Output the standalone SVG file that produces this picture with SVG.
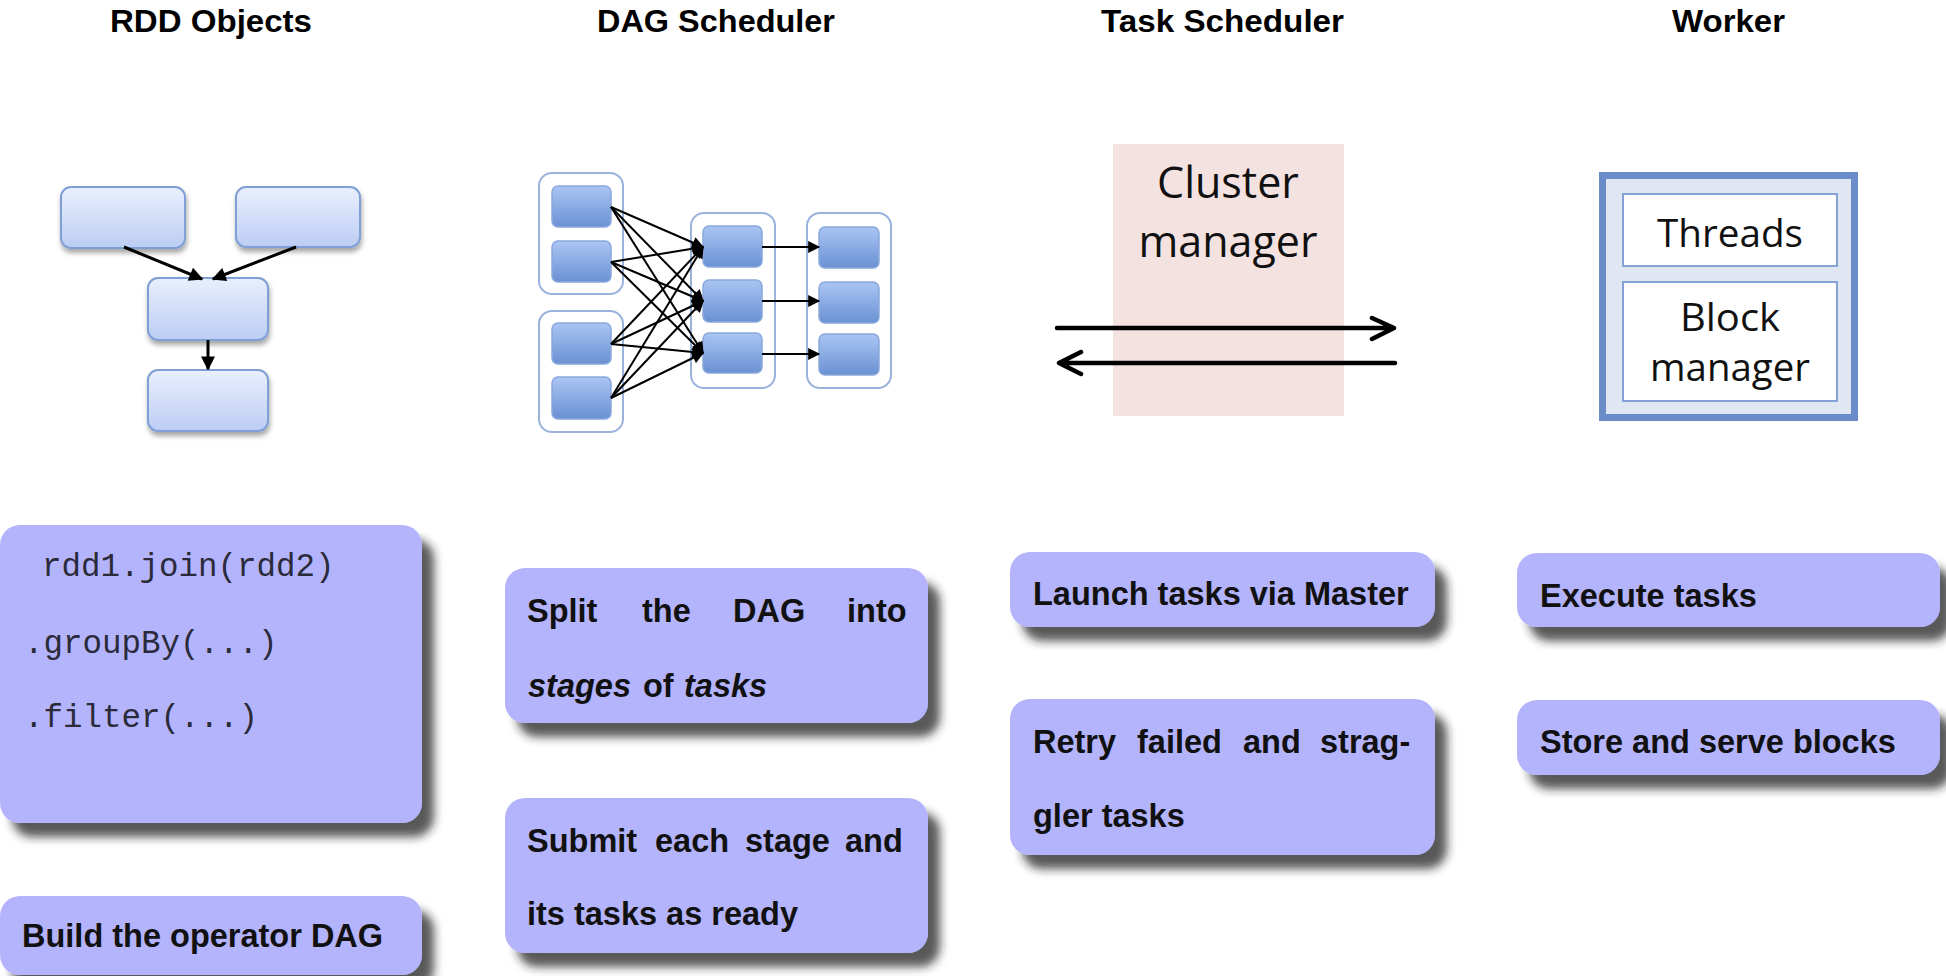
<svg xmlns="http://www.w3.org/2000/svg" width="1946" height="976" viewBox="0 0 1946 976">
<style>
.hdr{font-family:"Liberation Sans",Arial,sans-serif;font-weight:bold;font-size:32px;fill:#000}
.lbl{font-family:"Liberation Sans",Arial,sans-serif;font-weight:bold;font-size:32.5px;fill:#111}
.it{font-style:italic}
.code{font-family:"Liberation Mono","Courier New",monospace;font-size:32.5px;fill:#2a2a3a}
.cm{font-family:"Open Sans","Noto Sans",sans-serif;font-size:43px;fill:#111;text-anchor:middle}
.wt{font-family:"Open Sans","Noto Sans",sans-serif;font-size:39px;fill:#111;text-anchor:middle}
.note{fill:#b4b4fc;filter:url(#sh)}
.rdd{fill:url(#g1);stroke:#7f9fd5;stroke-width:2;filter:url(#sh2)}
.grp{fill:#fff;stroke:#9ab3dd;stroke-width:2}
.cell{fill:url(#g2);stroke:#89a8dc;stroke-width:1.5}
.wb{fill:#fff;stroke:#84a2d6;stroke-width:2}
.a1{stroke:#000;stroke-width:3;fill:none;marker-end:url(#ah1)}
.a2{stroke:#000;stroke-width:2;fill:none;marker-end:url(#ah2)}
.a3{stroke:#000;stroke-width:4.5;fill:none;stroke-linecap:round;stroke-linejoin:round}
</style>
<defs>
<linearGradient id="g1" x1="0" y1="0" x2="0" y2="1"><stop offset="0" stop-color="#e9effd"/><stop offset="1" stop-color="#bccdf4"/></linearGradient>
<linearGradient id="g2" x1="0" y1="0" x2="0" y2="1"><stop offset="0" stop-color="#aac5f3"/><stop offset="1" stop-color="#6a91d3"/></linearGradient>
<filter id="sh" x="-10%" y="-10%" width="130%" height="140%"><feDropShadow dx="12" dy="14" stdDeviation="5" flood-color="#222" flood-opacity="0.75"/></filter>
<filter id="sh2" x="-10%" y="-10%" width="130%" height="140%"><feDropShadow dx="1" dy="4" stdDeviation="2.5" flood-color="#000" flood-opacity="0.35"/></filter>
<marker id="ah1" viewBox="0 0 10 10" refX="9" refY="5" markerWidth="16" markerHeight="14" markerUnits="userSpaceOnUse" orient="auto"><path d="M0,0 L10,5 L0,10 z" fill="#000"/></marker>
<marker id="ah2" viewBox="0 0 10 10" refX="9" refY="5" markerWidth="13" markerHeight="12" markerUnits="userSpaceOnUse" orient="auto"><path d="M0,0 L10,5 L0,10 z" fill="#000"/></marker>
</defs>
<rect width="1946" height="976" fill="#fff"/>

<g id="headers">
<text class="hdr" x="110" y="32" textLength="202" lengthAdjust="spacingAndGlyphs">RDD Objects</text>
<text class="hdr" x="597" y="32" textLength="238" lengthAdjust="spacingAndGlyphs">DAG Scheduler</text>
<text class="hdr" x="1101" y="32" textLength="243" lengthAdjust="spacingAndGlyphs">Task Scheduler</text>
<text class="hdr" x="1672" y="32" textLength="113" lengthAdjust="spacingAndGlyphs">Worker</text>
</g>

<g id="rdd-graph">
<rect id="rdd1" class="rdd" x="61" y="187" width="124" height="61" rx="10"/>
<rect id="rdd2" class="rdd" x="236" y="187" width="124" height="60" rx="10"/>
<rect id="rdd3" class="rdd" x="148" y="278" width="120" height="62" rx="10"/>
<rect id="rdd4" class="rdd" x="148" y="370" width="120" height="61" rx="10"/>
</g>

<g id="dag-graph">
<rect id="stage1a" class="grp" x="539" y="173" width="84" height="121" rx="13"/>
<rect id="stage1b" class="grp" x="539" y="311" width="84" height="121" rx="13"/>
<rect id="stage2" class="grp" x="691" y="213" width="84" height="175" rx="13"/>
<rect id="stage3" class="grp" x="807" y="213" width="84" height="175" rx="13"/>
<rect class="cell" x="552" y="186" width="59" height="41" rx="6"/>
<rect class="cell" x="552" y="241" width="59" height="41" rx="6"/>
<rect class="cell" x="552" y="323" width="59" height="41" rx="6"/>
<rect class="cell" x="552" y="377" width="59" height="42" rx="6"/>
<rect class="cell" x="703" y="226" width="59" height="41" rx="6"/>
<rect class="cell" x="703" y="280" width="59" height="42" rx="6"/>
<rect class="cell" x="703" y="333" width="59" height="40" rx="6"/>
<rect class="cell" x="819" y="227" width="60" height="41" rx="6"/>
<rect class="cell" x="819" y="282" width="60" height="41" rx="6"/>
<rect class="cell" x="819" y="334" width="60" height="41" rx="6"/>
</g>

<g id="cluster-manager">
<rect x="1113" y="144" width="231" height="272" fill="#f4e2e1"/>
<text class="cm" x="1228" y="198">Cluster</text>
<text class="cm" x="1228" y="257">manager</text>
</g>

<g id="worker">
<rect x="1602.5" y="175.5" width="252" height="242" fill="#e1e7f2" stroke="#6a8cc8" stroke-width="7"/>
<rect class="wb" x="1623" y="194" width="214" height="72"/>
<rect class="wb" x="1623" y="282" width="214" height="119"/>
<text class="wt" x="1730" y="247" textLength="146" lengthAdjust="spacingAndGlyphs">Threads</text>
<text class="wt" x="1730" y="331" textLength="100" lengthAdjust="spacingAndGlyphs">Block</text>
<text class="wt" x="1730" y="381" textLength="160" lengthAdjust="spacingAndGlyphs">manager</text>
</g>

<g id="connectors">
<line class="a1" x1="124" y1="247" x2="202" y2="279"/>
<line class="a1" x1="296" y1="247" x2="213" y2="279"/>
<line class="a1" x1="208" y1="340" x2="208" y2="369"/>
<line class="a2" x1="611" y1="207" x2="703" y2="247"/>
<line class="a2" x1="611" y1="207" x2="703" y2="301"/>
<line class="a2" x1="611" y1="207" x2="703" y2="353"/>
<line class="a2" x1="611" y1="262" x2="703" y2="247"/>
<line class="a2" x1="611" y1="262" x2="703" y2="301"/>
<line class="a2" x1="611" y1="262" x2="703" y2="353"/>
<line class="a2" x1="611" y1="344" x2="703" y2="247"/>
<line class="a2" x1="611" y1="344" x2="703" y2="301"/>
<line class="a2" x1="611" y1="344" x2="703" y2="353"/>
<line class="a2" x1="611" y1="398" x2="703" y2="247"/>
<line class="a2" x1="611" y1="398" x2="703" y2="301"/>
<line class="a2" x1="611" y1="398" x2="703" y2="353"/>
<line class="a2" x1="762" y1="247" x2="819" y2="247"/>
<line class="a2" x1="762" y1="301" x2="819" y2="301"/>
<line class="a2" x1="762" y1="354" x2="819" y2="354"/>
<path class="a3" d="M1057,328 L1393,328 M1372,318 L1394,328 L1372,339"/>
<path class="a3" d="M1395,363 L1060,363 M1081,352 L1059,363 L1081,374"/>
</g>

<g id="note-code">
<rect class="note" x="0" y="525" width="422" height="298" rx="20"/>
<text class="code" x="42" y="576">rdd1.join(rdd2)</text>
<text class="code" x="24" y="653">.groupBy(...)</text>
<text class="code" x="24" y="727">.filter(...)</text>
</g>
<g id="note-build">
<rect class="note" x="0" y="896" width="422" height="79" rx="20"/>
<text class="lbl" x="22" y="947">Build the operator DAG</text>
</g>
<g id="note-split">
<rect class="note" x="505" y="568" width="423" height="155" rx="20"/>
<text class="lbl" x="527" y="622">Split</text>
<text class="lbl" x="642" y="622">the</text>
<text class="lbl" x="733" y="622">DAG</text>
<text class="lbl" x="847" y="622">into</text>
<text class="lbl it" x="528" y="697">stages</text>
<text class="lbl" x="643" y="697">of</text>
<text class="lbl it" x="684" y="697">tasks</text>
</g>
<g id="note-submit">
<rect class="note" x="505" y="798" width="423" height="155" rx="20"/>
<text class="lbl" x="527" y="852">Submit</text>
<text class="lbl" x="655" y="852">each</text>
<text class="lbl" x="745" y="852">stage</text>
<text class="lbl" x="845" y="852">and</text>
<text class="lbl" x="527" y="925">its tasks as ready</text>
</g>
<g id="note-launch">
<rect class="note" x="1010" y="552" width="425" height="75" rx="20"/>
<text class="lbl" x="1033" y="605">Launch tasks via Master</text>
</g>
<g id="note-retry">
<rect class="note" x="1010" y="699" width="425" height="156" rx="20"/>
<text class="lbl" x="1033" y="753">Retry</text>
<text class="lbl" x="1137" y="753">failed</text>
<text class="lbl" x="1243" y="753">and</text>
<text class="lbl" x="1320" y="753">strag-</text>
<text class="lbl" x="1033" y="827">gler tasks</text>
</g>
<g id="note-execute">
<rect class="note" x="1517" y="553" width="423" height="74" rx="20"/>
<text class="lbl" x="1540" y="607">Execute tasks</text>
</g>
<g id="note-store">
<rect class="note" x="1517" y="700" width="423" height="75" rx="20"/>
<text class="lbl" x="1540" y="753">Store and serve blocks</text>
</g>
</svg>
